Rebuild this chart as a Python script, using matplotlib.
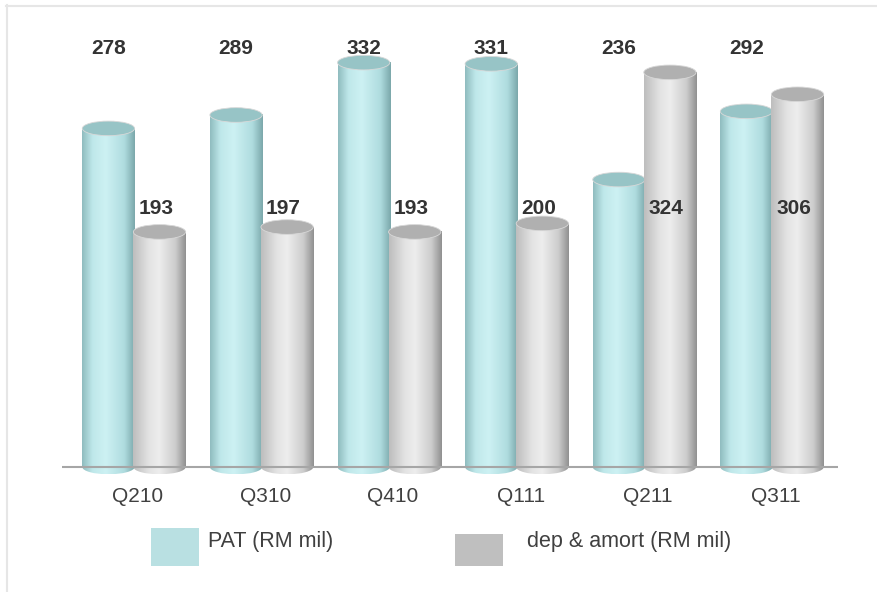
import numpy as np
import matplotlib
matplotlib.use('Agg')
from matplotlib import pyplot as plt
from matplotlib.patches import Ellipse, Rectangle
from matplotlib.colors import LinearSegmentedColormap
from matplotlib.lines import Line2D

plt.rcParams['font.family'] = ['Liberation Sans', 'DejaVu Sans']

# data
quarters = ['Q210', 'Q310', 'Q410', 'Q111', 'Q211', 'Q311']
pat = [278, 289, 332, 331, 236, 292]
dep_amort = [193, 197, 193, 200, 324, 306]
series_names = ['PAT (RM mil)', 'dep & amort (RM mil)']

W, H = 877, 592
fig = plt.figure(figsize=(W / 100, H / 100), dpi=100)

def fx(x):
    return x / W

def fy(y):
    return 1 - y / H

# axes: baseline at y=467px, 1.218 px per unit
ymin, ymax = -12, 350
ppu = 1.218
ax_bottom = 467 + (-ymin) * ppu
ax_top = 467 - ymax * ppu
ax = fig.add_axes([fx(62), fy(ax_bottom), fx(838) - fx(62), (ax_bottom - ax_top) / H])
ax.set_xlim(-0.564, 5.517)
ax.set_ylim(ymin, ymax)
ax.axis('off')

teal_cmap = LinearSegmentedColormap.from_list('teal', [
    (0.0, '#8fbcbf'), (0.2, '#bfe8ea'), (0.45, '#cdf1f3'),
    (0.8, '#afdcdf'), (1.0, '#7ba7aa')])
gray_cmap = LinearSegmentedColormap.from_list('gray', [
    (0.0, '#bdbdbd'), (0.3, '#e3e3e3'), (0.5, '#ededed'),
    (0.8, '#cdcdcd'), (1.0, '#909090')])
grad = np.linspace(0, 1, 256).reshape(1, -1)

bar_w = 0.41
off = 0.2
ell_h = 12.0  # full ellipse height in data units


def cylinder(xc, val, cmap, top_color, z):
    x0, x1 = xc - bar_w / 2, xc + bar_w / 2
    # body
    ax.imshow(grad, cmap=cmap, extent=[x0, x1, 0, val], aspect='auto',
              zorder=z, interpolation='bilinear')
    # bottom ellipse (front half shows below baseline)
    bot = Ellipse((xc, 0), bar_w, ell_h, facecolor='none', edgecolor='none')
    ax.add_patch(bot)
    im = ax.imshow(grad, cmap=cmap, extent=[x0, x1, -ell_h / 2, 0], aspect='auto',
                   zorder=z, interpolation='bilinear')
    im.set_clip_path(bot)
    # top ellipse
    ax.add_patch(Ellipse((xc, val), bar_w, ell_h, facecolor=top_color,
                         edgecolor='#d8d8d8', linewidth=0.6, zorder=z + 0.5))


x = np.arange(len(quarters))
for i in range(len(quarters)):
    cylinder(x[i] - off, pat[i], teal_cmap, '#97c4c6', 2)
    cylinder(x[i] + off, dep_amort[i], gray_cmap, '#b0b0b0', 3)
    ax.text(x[i] - off, 344, str(pat[i]), ha='center', va='center',
            fontsize=15, fontweight='bold', color='#333333', zorder=6)
    ax.text(x[i] + off - 0.03, 212.5, str(dep_amort[i]), ha='center', va='center',
            fontsize=15, fontweight='bold', color='#333333', zorder=6)
    ax.text(x[i] + 0.03, -24.5, quarters[i], ha='center', va='center',
            fontsize=15, color='#404040', clip_on=False)

ax.axhline(0, color='#a6a6a6', linewidth=1.5, zorder=5)

# legend
fig.add_artist(Rectangle((fx(151), fy(566)), fx(48), 38 / H, transform=fig.transFigure,
                         facecolor='#b9e0e2', edgecolor='none'))
fig.text(fx(208), fy(542), series_names[0], ha='left', va='center',
         fontsize=15.5, color='#404040')
fig.add_artist(Rectangle((fx(455), fy(566)), fx(48), 32 / H, transform=fig.transFigure,
                         facecolor='#bfbfbf', edgecolor='none'))
fig.text(fx(527), fy(542), series_names[1], ha='left', va='center',
         fontsize=15.5, color='#404040')

# light frame on top and left
fig.add_artist(Line2D([fx(6), 1], [fy(5.5), fy(5.5)], transform=fig.transFigure,
                      color='#e6e6e6', linewidth=1.5))
fig.add_artist(Line2D([fx(6.5), fx(6.5)], [fy(5), 0], transform=fig.transFigure,
                      color='#e6e6e6', linewidth=1.5))

fig.savefig('out.png', dpi=100)
